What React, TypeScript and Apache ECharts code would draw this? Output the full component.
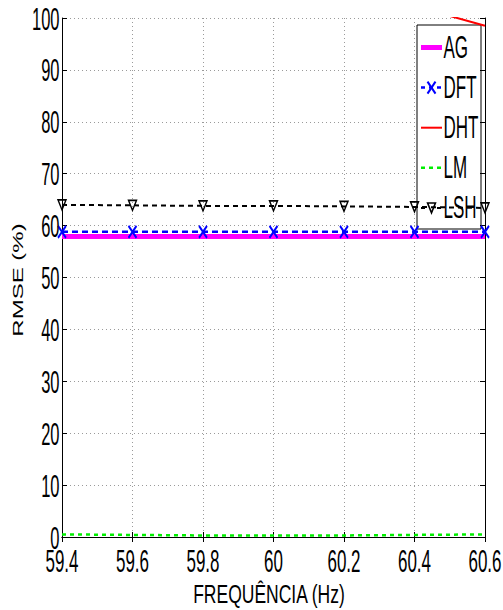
import React, { useEffect, useRef } from 'react';
import * as echarts from 'echarts';

// Frequency sweep (Hz) and RMSE (%) of each estimator
const frequencies = ['59.4', '59.6', '59.8', '60', '60.2', '60.4', '60.6'];
const rmseTicks = [0, 10, 20, 30, 40, 50, 60, 70, 80, 90, 100];
const agRmse = [57.9, 57.9, 57.9, 57.9, 57.9, 57.9, 57.9];
const dftRmse = [58.8, 58.8, 58.8, 58.8, 58.8, 58.8, 58.8];
const dhtRmse = [127.4, 121.9, 116.8, 111.0, 106.5, 102.3, 98.5];
const lmRmse = [0.5, 0.4, 0.3, 0.3, 0.3, 0.4, 0.5];
const lshRmse = [64.0, 63.9, 63.8, 63.8, 63.7, 63.6, 63.4];
const seriesNames = ['AG', 'DFT', 'DHT', 'LM', 'LSH'];

const FONT = "'Liberation Sans', Arial, Helvetica, sans-serif";
const GRID = { left: 62, right: 18, top: 18, bottom: 73 };

const crossSymbol = 'path://M0,0L8,12M8,0L0,12';
const triangleDown = 'path://M0,0L8,0L4,10Z';

export default function App() {
  const ref = useRef<HTMLDivElement>(null);

  useEffect(() => {
    if (!ref.current) return;
    const chart = echarts.init(ref.current, undefined, { renderer: 'svg' });

    const gridLine = { show: true, lineStyle: { color: '#9a9a9a', type: [1, 3] as any, width: 1 } };
    const baseAxisLine = { show: true, lineStyle: { color: '#000', width: 1 } };
    const inTick = { show: true, inside: true, length: 5, lineStyle: { color: '#000', width: 1 } };

    chart.setOption({
      animation: false,
      backgroundColor: '#fff',
      grid: { ...GRID, containLabel: false },
      xAxis: [
        {
          type: 'category',
          data: frequencies,
          boundaryGap: false,
          position: 'bottom',
          axisLine: baseAxisLine,
          axisTick: { ...inTick, interval: 0 },
          axisLabel: { show: false },
          splitLine: { ...gridLine, interval: 0 },
        },
        {
          type: 'category',
          data: frequencies,
          boundaryGap: false,
          position: 'top',
          axisLine: baseAxisLine,
          axisTick: { ...inTick, interval: 0 },
          axisLabel: { show: false },
          splitLine: { show: false },
        },
      ],
      yAxis: [
        {
          type: 'value',
          min: 0,
          max: 100,
          interval: 10,
          position: 'left',
          axisLine: baseAxisLine,
          axisTick: inTick,
          axisLabel: { show: false },
          splitLine: gridLine,
        },
        {
          type: 'value',
          min: 0,
          max: 100,
          interval: 10,
          position: 'right',
          axisLine: baseAxisLine,
          axisTick: inTick,
          axisLabel: { show: false },
          splitLine: { show: false },
        },
      ],
      series: [
        {
          name: 'AG',
          type: 'line',
          data: agRmse,
          symbol: 'none',
          lineStyle: { color: '#ff00ff', width: 5 },
          itemStyle: { color: '#ff00ff' },
          z: 2,
        },
        {
          name: 'DFT',
          type: 'line',
          data: dftRmse,
          symbol: crossSymbol,
          symbolSize: [8, 12],
          lineStyle: { color: '#0000ff', width: 2.5, type: [6, 4] as any },
          itemStyle: { color: 'transparent', borderColor: '#0000ff', borderWidth: 2.2 },
          z: 3,
        },
        {
          name: 'DHT',
          type: 'line',
          data: dhtRmse,
          symbol: 'none',
          clip: true,
          lineStyle: { color: '#ff0000', width: 2 },
          itemStyle: { color: '#ff0000' },
          z: 3,
        },
        {
          name: 'LM',
          type: 'line',
          data: lmRmse,
          symbol: 'none',
          lineStyle: { color: '#00ee00', width: 2.5, type: [4, 4] as any },
          itemStyle: { color: '#00ee00' },
          z: 3,
        },
        {
          name: 'LSH',
          type: 'line',
          data: lshRmse,
          symbol: triangleDown,
          symbolSize: [8, 10],
          lineStyle: { color: '#000', width: 2, type: [5, 4] as any },
          itemStyle: { color: 'transparent', borderColor: '#000', borderWidth: 1.5 },
          z: 3,
        },
      ],
    });

    // Tick labels and titles, placed from the axes' own pixel mapping
    const graphics: any[] = [];
    const yBottom = chart.convertToPixel({ yAxisIndex: 0 }, 0) as number;

    frequencies.forEach((f) => {
      const px = chart.convertToPixel({ xAxisIndex: 0 }, f) as number;
      graphics.push({
        type: 'text',
        x: px,
        y: yBottom + 24,
        scaleY: 1.9,
        z: 50,
        style: {
          text: f,
          fontFamily: FONT,
          fontSize: 17,
          fill: '#000',
          textAlign: 'center',
          textVerticalAlign: 'middle',
          align: 'center',
          verticalAlign: 'middle',
        },
      });
    });

    rmseTicks.forEach((v) => {
      const py = chart.convertToPixel({ yAxisIndex: 0 }, v) as number;
      graphics.push({
        type: 'text',
        x: 59.5,
        y: py + 1,
        scaleY: 1.85,
        z: 50,
        style: {
          text: String(v),
          fontFamily: FONT,
          fontSize: 16.5,
          fill: '#000',
          textAlign: 'right',
          textVerticalAlign: 'middle',
          align: 'right',
          verticalAlign: 'middle',
        },
      });
    });

    graphics.push({
      type: 'text',
      x: 269,
      y: 594,
      scaleY: 1.48,
      z: 50,
      style: {
        text: 'FREQUÊNCIA (Hz)',
        fontFamily: FONT,
        fontSize: 17.5,
        fill: '#000',
        textAlign: 'center',
        textVerticalAlign: 'middle',
        align: 'center',
        verticalAlign: 'middle',
      },
    });

    graphics.push({
      type: 'text',
      x: 18,
      y: 280,
      rotation: Math.PI / 2,
      scaleX: 1.6,
      z: 50,
      style: {
        text: 'RMSE (%)',
        fontFamily: FONT,
        fontSize: 15,
        fill: '#000',
        textAlign: 'center',
        textVerticalAlign: 'middle',
        align: 'center',
        verticalAlign: 'middle',
      },
    });

    // Legend box
    const box = { x: 417, y: 25, w: 64, h: 204 };
    const legendChildren: any[] = [
      {
        type: 'rect',
        shape: { x: box.x, y: box.y, width: box.w, height: box.h },
        style: { fill: '#fff', stroke: '#000', lineWidth: 1 },
      },
    ];
    const sx1 = 421;
    const sx2 = 442;
    const cx = (sx1 + sx2) / 2;
    seriesNames.forEach((name, i) => {
      const y = 47.5 + i * 40.1;
      if (name === 'AG') {
        legendChildren.push({ type: 'line', shape: { x1: sx1, y1: y, x2: sx2, y2: y }, style: { stroke: '#ff00ff', lineWidth: 5 } });
      } else if (name === 'DFT') {
        legendChildren.push({ type: 'line', shape: { x1: sx1, y1: y, x2: sx2, y2: y }, style: { stroke: '#0000ff', lineWidth: 2.5, lineDash: [4, 4] } });
        legendChildren.push({ type: 'line', shape: { x1: cx - 4, y1: y - 6, x2: cx + 4, y2: y + 6 }, style: { stroke: '#0000ff', lineWidth: 2 } });
        legendChildren.push({ type: 'line', shape: { x1: cx + 4, y1: y - 6, x2: cx - 4, y2: y + 6 }, style: { stroke: '#0000ff', lineWidth: 2 } });
      } else if (name === 'DHT') {
        legendChildren.push({ type: 'line', shape: { x1: sx1, y1: y, x2: sx2, y2: y }, style: { stroke: '#ff0000', lineWidth: 2 } });
      } else if (name === 'LM') {
        legendChildren.push({ type: 'line', shape: { x1: sx1, y1: y, x2: sx2, y2: y }, style: { stroke: '#00ee00', lineWidth: 2.5, lineDash: [4, 4] } });
      } else if (name === 'LSH') {
        legendChildren.push({ type: 'line', shape: { x1: sx1, y1: y, x2: sx2, y2: y }, style: { stroke: '#000', lineWidth: 2, lineDash: [4, 4] } });
        legendChildren.push({
          type: 'polygon',
          shape: { points: [[cx - 4, y - 5], [cx + 4, y - 5], [cx, y + 5]] },
          style: { fill: '#fff', stroke: '#000', lineWidth: 1.5 },
        });
      }
      legendChildren.push({
        type: 'text',
        x: 443.5,
        y,
        scaleY: 1.8,
        style: {
          text: name,
          fontFamily: FONT,
          fontSize: 17,
          fill: '#000',
          textAlign: 'left',
          textVerticalAlign: 'middle',
          align: 'left',
          verticalAlign: 'middle',
        },
      });
    });
    graphics.push({ type: 'group', z: 100, children: legendChildren });

    chart.setOption({ graphic: graphics });

    return () => chart.dispose();
  }, []);

  return (
    <div
      ref={ref}
      style={{ position: 'fixed', left: 0, top: 0, width: 503, height: 610, background: '#fff' }}
    />
  );
}
